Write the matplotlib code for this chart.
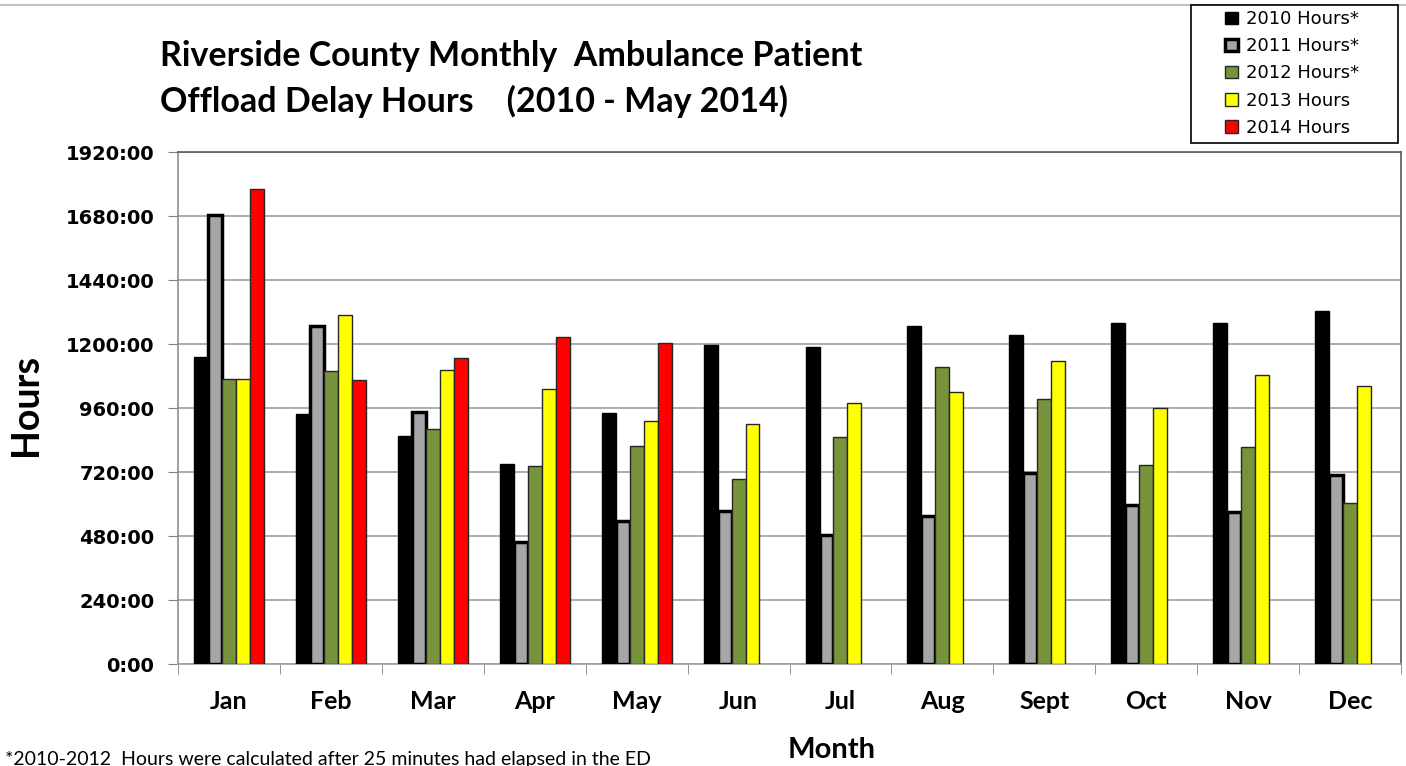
import numpy as np
import matplotlib.pyplot as plt
from matplotlib.patches import Rectangle
from matplotlib.ticker import FixedLocator, FuncFormatter

months = ['Jan', 'Feb', 'Mar', 'Apr', 'May', 'Jun', 'Jul', 'Aug', 'Sept', 'Oct', 'Nov', 'Dec']

# hours
hours_2010 = [1150, 936, 855, 749, 941, 1197, 1187, 1268, 1234, 1277, 1277, 1322]
hours_2011 = [1684, 1269, 945, 458, 536, 575, 484, 555, 717, 597, 569, 709]
hours_2012 = [1070, 1099, 883, 742, 816, 695, 850, 1113, 993, 748, 815, 604]
hours_2013 = [1070, 1309, 1104, 1032, 910, 901, 977, 1021, 1136, 959, 1085, 1041]
hours_2014 = [1780, 1065, 1148, 1228, 1203]

series = [
    ('2010 Hours*', hours_2010, '#000000', '#000000', 1.0),
    ('2011 Hours*', hours_2011, '#A6A6A6', '#000000', 2.5),
    ('2012 Hours*', hours_2012, '#77933C', '#262626', 1.0),
    ('2013 Hours', hours_2013, '#FFFF00', '#262626', 1.0),
    ('2014 Hours', hours_2014, '#FF0000', '#262626', 1.0),
]

plt.rcParams['font.family'] = ['Lato', 'DejaVu Sans']

W, H = 1406, 766
fig = plt.figure(figsize=(W / 100, H / 100), dpi=100)
ax = fig.add_axes([178 / W, 1 - 664 / H, (1401 - 178) / W, (664 - 152) / H])

x = np.arange(len(months))
w = 0.137
handles = []
for i, (label, vals, fc, ec, lw) in enumerate(series):
    pos = x[:len(vals)] + (i - 2) * w
    b = ax.bar(pos, vals, width=w, color=fc, edgecolor=ec, linewidth=lw, label=label, zorder=3)
    handles.append(b)

ax.set_xlim(-0.5, len(months) - 0.5)
ax.set_ylim(0, 1920)
ax.yaxis.set_major_locator(FixedLocator(np.arange(0, 1921, 240)))
ax.yaxis.set_major_formatter(FuncFormatter(lambda v, p: f'{int(v)}:00'))
ax.grid(axis='y', color='#A0A0A0', linewidth=1.2, zorder=0)
ax.set_axisbelow(True)

ax.set_xticks(x)
ax.set_xticklabels(months, fontsize=18, fontweight='bold')
ax.xaxis.set_minor_locator(FixedLocator(np.arange(-0.5, len(months), 1)))
ax.tick_params(axis='x', which='major', length=0, pad=19)
ax.tick_params(axis='x', which='minor', length=7, color='#808080', direction='out')
ax.tick_params(axis='y', length=7, color='#808080', pad=10)
for t in ax.get_yticklabels():
    t.set_fontfamily('DejaVu Sans')
    t.set_fontweight('bold')
    t.set_fontsize(14)

for s in ax.spines.values():
    s.set_color('#595959')
    s.set_linewidth(1.2)
ax.spines['bottom'].set_color('#A0A0A0')
ax.spines['left'].set_color('#909090')

fig.text(26 / W, 1 - 405 / H, 'Hours', fontsize=27, fontweight='bold', rotation=90,
         ha='center', va='center')
fig.text(832 / W, 1 - 750 / H, 'Month', fontsize=21, fontweight='bold', ha='center', va='center')

fig.text(160 / W, 1 - 56 / H, 'Riverside County Monthly  Ambulance Patient',
         fontsize=24.5, fontweight='bold', ha='left', va='center')
fig.text(160 / W, 1 - 101 / H, 'Offload Delay Hours    (2010 - May 2014)',
         fontsize=24.5, fontweight='bold', ha='left', va='center')

fig.text(5 / W, 1 - 759 / H, '*2010-2012  Hours were calculated after 25 minutes had elapsed in the ED',
         fontsize=14, ha='left', va='center')

# thin gray rule along the top edge
fig.add_artist(plt.Line2D([0, 1], [1 - 5 / H, 1 - 5 / H], color='#C0C0C0', linewidth=1.5))

# legend box drawn separately so the side margins can be wider than the top/bottom
fig.add_artist(Rectangle((1191 / W, 1 - 143 / H), (1398 - 1191) / W, (143 - 5) / H,
                         transform=fig.transFigure, fill=True, facecolor='white',
                         edgecolor='black', linewidth=1.2, zorder=4))
leg = fig.legend(handles=handles, loc='upper left', bbox_to_anchor=(1220 / W, 1 - 5 / H),
                 prop={'family': 'DejaVu Sans', 'size': 13}, frameon=False,
                 handlelength=0.7, handleheight=0.7, handletextpad=0.45,
                 labelspacing=0.5, borderpad=0.3, borderaxespad=0)
leg.set_zorder(5)

fig.savefig('out.png', dpi=100)
